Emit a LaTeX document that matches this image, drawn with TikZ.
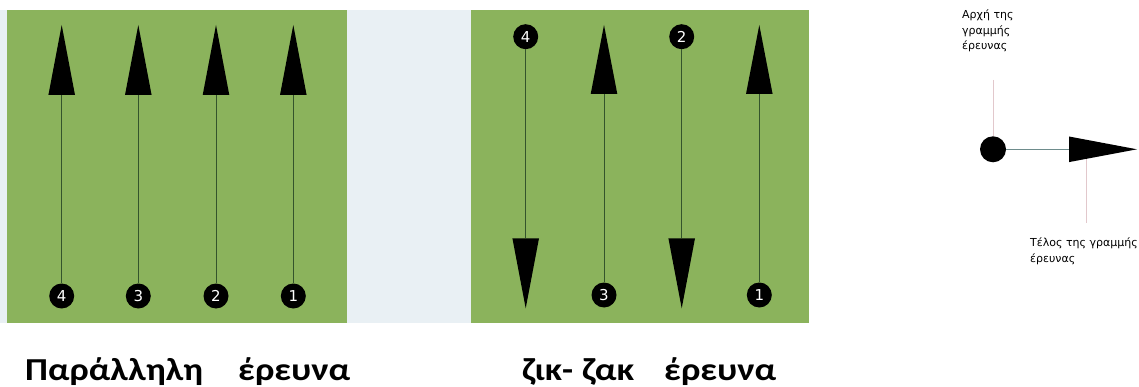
\documentclass[tikz,border=0pt]{standalone}
\usepackage{fontspec}
\usepackage{graphicx}
\newfontfamily\capfont{Carlito}
\newfontfamily\lblfont{DejaVu Sans}
\definecolor{panelgreen}{RGB}{139,179,92}
\definecolor{gapc}{RGB}{233,240,244}
\definecolor{trailc}{RGB}{52,84,44}
\definecolor{pinkc}{RGB}{226,200,204}
\definecolor{hlinec}{RGB}{110,140,140}
\tikzset{
  panelbox/.style={fill=panelgreen,draw=none},
  numcirc/.style={circle,fill=black,text=white,minimum size=25pt,inner sep=0pt,
    font=\lblfont\fontsize{15}{15}\selectfont},
  trailline/.style={draw=trailc,line width=0.8pt},
  headfill/.style={fill=black},
  startdot/.style={circle,fill=black,minimum size=26pt,inner sep=0pt},
  pinkline/.style={draw=pinkc,line width=0.6pt},
  hlinestyle/.style={draw=hlinec,line width=0.8pt},
  lbltext/.style={font=\lblfont\fontsize{11}{15.5}\selectfont,align=left,inner sep=0pt},
  captext/.style={font=\capfont\bfseries\fontsize{32}{32}\selectfont,inner sep=0pt}
}
\newcommand{\capword}[2]{\resizebox{#1pt}{\height}{#2}}
\begin{document}
\begin{tikzpicture}[x=1pt,y=-1pt]
\useasboundingbox (0,0) rectangle (1139,387);
\fill[white] (0,0) rectangle (1139,387);
\fill[gapc] (0,10) rectangle (471,323);
\fill[panelbox] (7,10) rectangle (347,323);
\fill[panelbox] (471,10) rectangle (809,323);
% parallel search
\foreach \x/\n in {61.7/4,138.3/3,216/2,293.3/1}{
  \node[numcirc] (p\n) at (\x,296) {\n};
  \coordinate (ph\n) at (\x,95);
  \draw[trailline] (p\n) -- (ph\n);
  \fill[headfill] (ph\n) ++(-13.3,0) -- ++(26.6,0) -- ++(-13.3,-70) -- cycle;
}
% zig-zag search: up arrows (3,1)
\foreach \x/\n in {604/3,759.3/1}{
  \node[numcirc] (z\n) at (\x,295) {\n};
  \coordinate (zh\n) at (\x,94);
  \draw[trailline] (z\n) -- (zh\n);
  \fill[headfill] (zh\n) ++(-13.3,0) -- ++(26.6,0) -- ++(-13.3,-69) -- cycle;
}
% zig-zag search: down arrows (4,2)
\foreach \x/\n in {525.7/4,681.7/2}{
  \node[numcirc] (z\n) at (\x,36.7) {\n};
  \coordinate (zh\n) at (\x,238.3);
  \draw[trailline] (z\n) -- (zh\n);
  \fill[headfill] (zh\n) ++(-13.3,0) -- ++(26.6,0) -- ++(-13.3,70) -- cycle;
}
% legend
\node[startdot] (st) at (993,149.3) {};
\coordinate (eb) at (1069,149.3);
\draw[hlinestyle] (st) -- (eb);
\fill[headfill] (eb) ++(0,-12.8) -- ++(68,12.8) -- ++(-68,12.8) -- cycle;
\coordinate (la) at (993,80);
\draw[pinkline] (la) -- (st.north);
\coordinate (lb1) at (1086,159);
\coordinate (lb2) at (1086,223);
\draw[pinkline] (lb1) -- (lb2);
\node[lbltext,anchor=north west] (ta) at (962,10) {Αρχή της\\γραμμής\\έρευνας};
\node[lbltext,anchor=north west] (tb) at (1030,238) {Τέλος της γραμμής\\έρευνας};
% captions
\node[captext,anchor=base west] (c1) at (25,380) {\capword{178}{Παράλληλη}};
\node[captext,anchor=base west] (c2) at (238,380) {\capword{112}{έρευνα}};
\node[captext,anchor=base west] (c3) at (522,380) {\capword{51}{ζικ-}};
\node[captext,anchor=base west] (c4) at (582,380) {\capword{52}{ζακ}};
\node[captext,anchor=base west] (c5) at (664,380) {\capword{112}{έρευνα}};
\end{tikzpicture}
\end{document}
